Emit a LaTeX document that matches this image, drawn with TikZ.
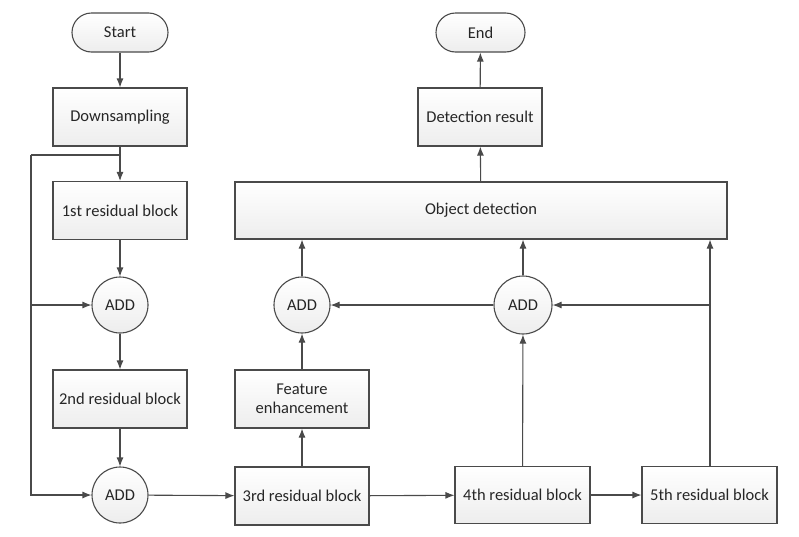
\documentclass[tikz,border=0pt]{standalone}
\usepackage{fontspec}
\setmainfont{Carlito}
\usetikzlibrary{arrows.meta}
\definecolor{lc}{HTML}{4A4A4A}
\newcommand{\fs}{\fontsize{16.5}{19}\selectfont}
\tikzset{
  box/.style={draw=lc, line width=1.1pt, top color=white, bottom color=black!7, minimum width=134pt, minimum height=58pt, inner sep=0pt, align=center, font=\fs, text=black!85},
  term/.style={box, minimum width=96pt, minimum height=39pt, rounded corners=19.5pt},
  addc/.style={box, circle, minimum width=56pt, minimum height=56pt},
  conn/.style={draw=lc, line width=1.1pt},
  arr/.style={conn, -{Latex[length=9pt,width=7pt]}}
}
\begin{document}
\begin{tikzpicture}[x=1pt,y=-1pt]
\useasboundingbox (0,0) rectangle (799,536);
\node[term] (start) at (120,32.5) {Start};
\node[box] (down) at (120,117) {Downsampling};
\node[box] (r1) at (120,210.5) {1st residual block};
\node[addc] (add1) at (120,305) {ADD};
\node[box] (r2) at (120,399) {2nd residual block};
\node[addc] (add2) at (120,495) {ADD};
\node[box] (r3) at (302,496) {3rd residual block};
\node[box] (fe) at (302,399) {Feature\\enhancement};
\node[addc] (add3) at (302,305) {ADD};
\node[box, minimum width=492pt, minimum height=57pt] (od) at (481,210.5) {Object detection};
\node[box, minimum width=124pt] (dr) at (480,117) {Detection result};
\node[term, minimum width=89pt] (end) at (480.5,32.5) {End};
\node[addc, minimum width=58pt, minimum height=58pt] (add4) at (523,305) {ADD};
\node[box, minimum width=135pt, minimum height=57pt] (r4) at (522.5,495) {4th residual block};
\node[box, minimum width=135pt, minimum height=57pt] (r5) at (709.5,495) {5th residual block};
\coordinate (fbt) at (120,155);
\coordinate (fb) at (31,155);
\coordinate (br) at (710,305);
\draw[arr] (start) -- (down);
\draw[arr] (down) -- (r1);
\draw[conn] (fbt) -- (fb);
\draw[arr] (fb) |- (add1);
\draw[arr] (fb) |- (add2);
\draw[arr] (r1) -- (add1);
\draw[arr] (add1) -- (r2);
\draw[arr] (r2) -- (add2);
\draw[arr] (add2) -- (r3);
\draw[arr] (r3) -- (fe);
\draw[arr] (fe) -- (add3);
\draw[arr] (add3) -- (od.south -| add3);
\draw[arr] (r3) -- (r4);
\draw[arr] (r4) -- (r5);
\draw[arr] (r4) -- (add4);
\draw[arr] (add4) -- (od.south -| add4);
\draw[arr] (add4) -- (add3);
\draw[arr] (r5.north -| br) -- (od.south -| br);
\draw[arr] (br) -- (add4);
\draw[arr] (od) -- (dr);
\draw[arr] (dr) -- (end);
\end{tikzpicture}
\end{document}
